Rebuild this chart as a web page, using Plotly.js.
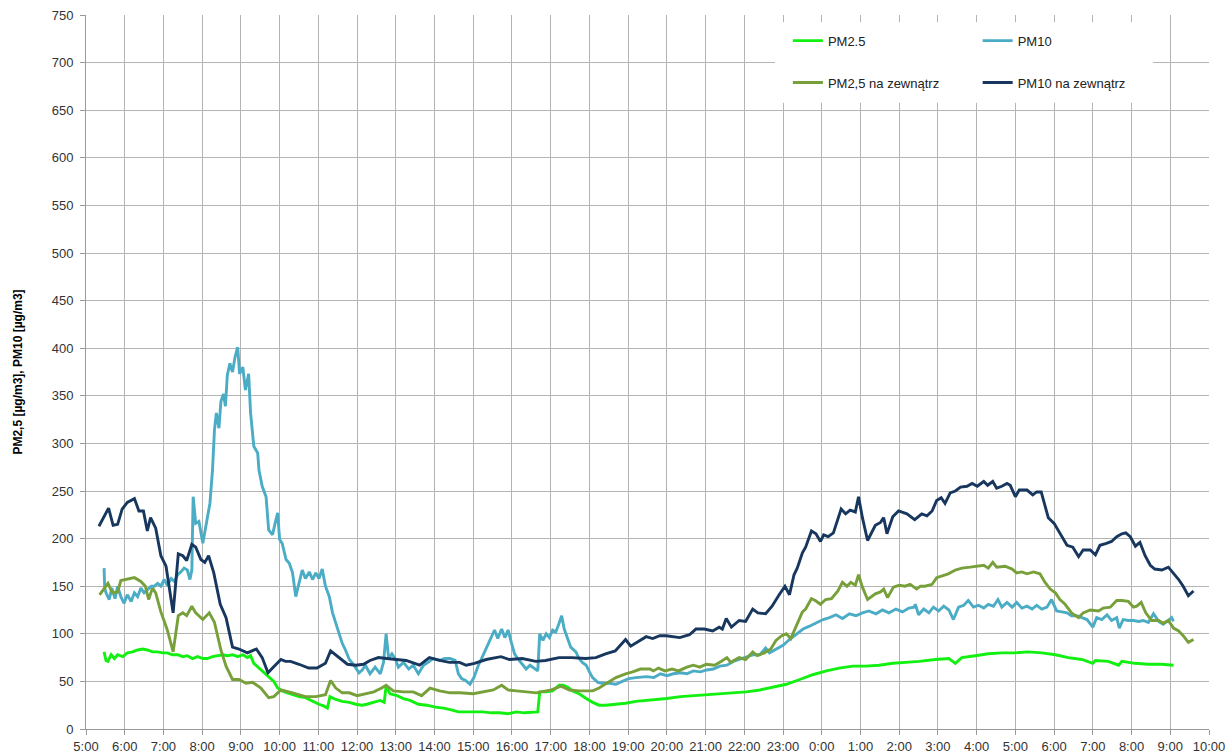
<!DOCTYPE html>
<html>
<head>
<meta charset="utf-8">
<script src="https://cdn.plot.ly/plotly-3.0.1.min.js"></script>
<style>html,body{margin:0;padding:0;background:#fff;}#chart{width:1230px;height:756px;}</style>
</head>
<body>
<div id="chart"></div>
<script>
// ---- Data ----
const pm25Times = ["05:28","05:31","05:34","05:39","05:44","05:49","05:57","06:04","06:12","06:20","06:28","06:35","06:43","06:51","06:59","07:06","07:14","07:22","07:30","07:37","07:45","07:53","08:01","08:08","08:16","08:24","08:32","08:39","08:47","08:55","09:03","09:10","09:15","09:20","09:28","09:36","09:44","09:51","09:57","10:04","10:12","10:20","10:30","10:40","10:51","11:01","11:09","11:14","11:18","11:27","11:37","11:48","11:58","12:08","12:15","12:26","12:36","12:42","12:45","12:51","13:02","13:12","13:22","13:35","13:48","14:01","14:14","14:26","14:37","14:49","15:02","15:15","15:28","15:41","15:54","16:07","16:19","16:32","16:40","16:43","16:53","17:03","17:13","17:19","17:26","17:34","17:44","17:55","18:05","18:15","18:25","18:41","18:56","19:12","19:30","19:40","20:00","20:21","20:41","21:02","21:22","21:43","22:03","22:24","22:45","23:05","23:26","23:46","00:07","00:27","00:48","01:08","01:29","01:50","02:10","02:31","02:56","03:17","03:27","03:37","03:58","04:18","04:39","05:00","05:20","05:41","06:02","06:22","06:43","07:00","07:04","07:24","07:40","07:45","08:05","08:26","08:47","09:05"];
const pm25Values = [81,72,71,78,74,78,76,80,81,83,84,83,81,81,80,80,78,78,76,77,74,76,74,74,76,77,78,77,78,76,78,75,77,69,64,60,55,50,43,40,38,36,34,33,29,26,24,22,34,31,29,28,26,25,26,28,30,28,45,37,35,32,30,26,25,23,22,20,18,18,18,18,17,17,16,18,17,18,18,39,39,40,46,46,44,40,37,32,28,25,25,26,27,29,30,31,32,34,35,36,37,38,39,41,44,47,52,57,61,64,66,66,67,69,70,71,73,74,69,75,77,79,80,80,81,80,78,75,73,69,72,71,67,71,69,68,68,67];

const pm10Times = ["05:28","05:29","05:31","05:36","05:40","05:45","05:49","05:54","05:59","06:04","06:10","06:15","06:20","06:25","06:30","06:35","06:41","06:46","06:51","06:56","07:01","07:06","07:12","07:17","07:22","07:27","07:32","07:37","07:41","07:44","07:46","07:50","07:55","08:01","08:06","08:12","08:16","08:19","08:22","08:26","08:29","08:33","08:36","08:39","08:43","08:47","08:51","08:55","08:58","09:03","09:07","09:12","09:15","09:20","09:26","09:28","09:33","09:39","09:43","09:49","09:53","09:57","10:00","10:04","10:10","10:15","10:20","10:25","10:30","10:35","10:40","10:46","10:51","10:56","11:01","11:06","11:11","11:17","11:22","11:27","11:32","11:37","11:42","11:48","11:53","11:58","12:03","12:08","12:13","12:20","12:28","12:36","12:41","12:45","12:49","12:54","12:59","13:04","13:12","13:20","13:27","13:35","13:43","13:50","13:58","14:08","14:16","14:24","14:32","14:37","14:42","14:48","14:55","15:01","15:08","15:15","15:23","15:28","15:33","15:38","15:44","15:49","15:54","15:59","16:04","16:09","16:16","16:22","16:28","16:35","16:40","16:43","16:48","16:53","16:58","17:03","17:08","17:13","17:17","17:21","17:26","17:31","17:39","17:44","17:49","17:55","18:00","18:05","18:13","18:20","18:31","18:41","18:51","19:01","19:12","19:22","19:29","19:40","19:50","20:00","20:10","20:21","20:31","20:41","20:52","21:02","21:12","21:22","21:33","21:43","21:53","22:03","22:14","22:24","22:33","22:39","22:50","23:00","23:10","23:21","23:31","23:41","23:51","00:02","00:12","00:22","00:32","00:43","00:53","01:03","01:13","01:24","01:34","01:44","01:55","02:05","02:15","02:23","02:25","02:30","02:38","02:46","02:53","03:01","03:09","03:17","03:24","03:32","03:40","03:47","03:55","04:03","04:11","04:18","04:26","04:33","04:39","04:47","04:55","05:02","05:10","05:18","05:26","05:33","05:41","05:49","05:56","06:04","06:12","06:20","06:27","06:35","06:43","06:51","07:00","07:06","07:14","07:22","07:29","07:37","07:41","07:47","07:55","08:03","08:11","08:18","08:26","08:34","08:42","08:49","08:57","09:02","09:05"];
const pm10Values = [169,148,143,136,148,137,150,139,132,141,134,143,139,148,143,146,150,150,153,150,157,151,158,155,162,165,169,167,157,167,244,216,218,195,213,237,272,314,332,316,344,352,339,372,384,375,391,401,373,380,356,373,332,297,290,272,255,244,209,204,216,227,199,195,178,174,164,139,153,167,158,165,157,164,158,168,150,139,122,111,101,90,83,73,69,64,59,62,67,58,65,58,70,100,74,79,74,65,70,63,67,58,67,70,74,72,74,74,72,58,53,51,47,54,67,77,89,95,104,95,105,96,104,91,79,74,68,63,67,63,61,100,93,100,96,104,102,111,119,105,95,86,81,74,70,67,60,54,49,48,48,47,50,53,54,55,55,54,58,56,58,59,58,61,60,62,63,66,67,71,73,75,78,78,85,80,84,88,94,100,105,108,111,115,117,120,116,121,119,122,124,121,125,122,126,123,127,128,131,120,126,122,128,124,129,125,115,128,130,135,128,130,127,131,129,136,128,133,128,133,127,129,126,130,126,128,136,124,123,122,119,119,117,115,107,117,115,120,114,117,106,115,114,114,113,114,112,121,113,110,114,117,113];

const pm25OutTimes = ["05:21","05:26","05:34","05:41","05:49","05:54","06:07","06:15","06:25","06:32","06:37","06:43","06:48","06:56","07:06","07:15","07:23","07:30","07:36","07:44","07:50","08:01","08:11","08:19","08:29","08:37","08:47","08:57","09:08","09:18","09:31","09:43","09:51","10:02","10:20","10:40","10:56","11:11","11:19","11:27","11:37","11:48","12:00","12:13","12:26","12:38","12:45","12:56","13:12","13:27","13:40","13:53","14:08","14:24","14:39","15:00","15:15","15:31","15:44","15:54","16:07","16:22","16:38","16:45","17:01","17:16","17:29","17:44","18:05","18:15","18:25","18:41","18:56","19:07","19:19","19:34","19:39","19:47","19:57","20:08","20:18","20:31","20:41","20:51","21:01","21:14","21:24","21:33","21:39","21:52","22:02","22:13","22:20","22:31","22:41","22:49","22:58","23:05","23:12","23:20","23:30","23:35","23:44","23:50","23:58","00:06","00:15","00:25","00:32","00:39","00:45","00:52","00:57","01:03","01:11","01:23","01:31","01:36","01:42","01:51","02:00","02:09","02:17","02:27","02:33","02:40","02:51","02:58","03:06","03:16","03:27","03:37","03:50","04:00","04:11","04:18","04:25","04:31","04:44","04:55","05:02","05:10","05:18","05:28","05:38","05:46","05:54","06:02","06:09","06:17","06:27","06:38","06:45","06:56","07:09","07:16","07:27","07:37","07:45","07:55","08:03","08:08","08:15","08:22","08:31","08:42","08:49","08:57","09:05","09:13","09:20","09:28","09:36"];
const pm25OutValues = [141,146,153,143,144,156,158,159,155,150,136,148,143,123,104,81,119,122,119,129,122,115,122,112,83,66,52,52,48,49,43,33,34,41,38,34,34,36,51,43,38,38,35,37,39,43,46,40,39,39,35,43,40,38,38,37,39,41,46,41,40,39,38,39,41,45,41,40,40,43,47,54,58,60,63,63,61,64,61,63,61,65,67,65,68,67,71,75,70,75,73,81,77,80,84,93,98,100,95,108,123,126,137,135,131,136,137,145,154,150,154,151,162,149,136,142,144,147,138,149,151,150,152,147,150,150,152,159,161,163,167,169,170,171,172,169,175,170,171,168,164,165,163,165,163,154,147,143,136,131,122,117,122,125,124,127,128,135,135,134,128,129,133,122,114,114,111,114,106,103,98,91,94];

const pm10OutTimes = ["05:20","05:35","05:42","05:49","05:56","06:04","06:15","06:22","06:29","06:35","06:40","06:48","06:56","07:04","07:15","07:23","07:30","07:36","07:44","07:50","07:58","08:04","08:10","08:18","08:28","08:37","08:47","08:57","09:10","09:18","09:24","09:33","09:42","09:49","10:02","10:09","10:17","10:30","10:45","10:58","11:11","11:19","11:32","11:45","11:58","12:10","12:20","12:33","12:46","13:00","13:16","13:37","13:52","14:08","14:23","14:39","14:49","15:02","15:20","15:43","15:56","16:16","16:37","16:52","17:13","17:33","17:54","18:10","18:25","18:40","18:56","19:04","19:16","19:28","19:38","19:49","19:59","20:09","20:20","20:35","20:45","20:58","21:11","21:21","21:26","21:32","21:40","21:52","22:02","22:13","22:21","22:33","22:43","22:54","23:03","23:10","23:17","23:22","23:30","23:35","23:44","23:51","23:58","00:03","00:10","00:18","00:30","00:37","00:44","00:52","00:57","01:03","01:11","01:23","01:31","01:36","01:41","01:50","01:59","02:12","02:24","02:35","02:43","02:51","02:58","03:05","03:11","03:19","03:27","03:35","03:45","03:53","04:01","04:11","04:17","04:25","04:31","04:39","04:47","04:52","05:00","05:06","05:18","05:27","05:33","05:40","05:51","06:00","06:09","06:20","06:29","06:38","06:45","06:56","07:04","07:11","07:21","07:29","07:37","07:45","07:51","07:58","08:06","08:13","08:21","08:29","08:36","08:47","08:57","09:05","09:13","09:20","09:28","09:36"];
const pm10OutValues = [213,232,214,215,231,238,242,229,229,208,222,211,182,171,122,184,182,177,194,191,178,175,182,164,131,117,86,84,80,82,84,75,59,64,73,71,71,68,64,64,69,82,75,68,67,68,72,75,74,73,72,67,75,72,70,70,67,69,73,76,73,74,71,72,75,75,74,75,79,82,94,87,92,97,95,98,98,97,96,99,105,105,103,107,105,116,107,114,113,126,122,121,129,141,150,141,162,169,185,191,208,205,197,204,202,206,231,226,230,228,244,222,198,214,217,222,205,223,229,226,220,226,224,229,240,243,237,248,250,254,255,258,255,260,256,260,253,255,258,256,244,251,251,246,249,249,222,216,205,193,191,181,188,188,183,193,195,197,202,205,206,202,192,196,182,172,168,167,170,164,157,150,140,145];

const seriesNames = ["PM2.5", "PM10", "PM2,5 na zewnątrz", "PM10 na zewnątrz"];
const seriesColors = ["#11f011", "#4bacc6", "#77a03a", "#17375e"];
const yTitle = "PM2,5 [µg/m3], PM10 [µg/m3]";

// Times run over midnight: second day starts when clock time decreases
function toDates(times) {
  let day = 1, prev = -1;
  return times.map(t => {
    const [h, m] = t.split(':').map(Number);
    const mins = h * 60 + m;
    if (mins < prev) day++;
    prev = mins;
    return '2020-01-0' + day + ' ' + t;
  });
}

const seriesData = [
  [pm25Times, pm25Values, 'legend'],
  [pm10Times, pm10Values, 'legend2'],
  [pm25OutTimes, pm25OutValues, 'legend'],
  [pm10OutTimes, pm10OutValues, 'legend2']
];

const traces = seriesData.map((s, i) => ({
  type: 'scatter',
  mode: 'lines',
  name: seriesNames[i],
  x: toDates(s[0]),
  y: s[1],
  legend: s[2],
  legendgroup: 'g' + i,
  line: {color: seriesColors[i], width: 2.9},
  hoverinfo: 'skip'
}));

const fontFam = 'Liberation Sans, Arial, sans-serif';
const legendCommon = {
  bgcolor: 'rgba(0,0,0,0)',
  borderwidth: 0,
  font: {family: fontFam, size: 13, color: '#222'},
  orientation: 'v',
  tracegroupgap: 22,
  xanchor: 'left',
  yanchor: 'top',
  y: 0.985
};

const layout = {
  width: 1230,
  height: 756,
  margin: {l: 86, r: 21, t: 15, b: 27},
  paper_bgcolor: '#fff',
  plot_bgcolor: '#fff',
  showlegend: true,
  font: {family: fontFam, size: 13, color: '#404040'},
  xaxis: {
    type: 'date',
    range: ['2020-01-01 05:00', '2020-01-02 10:00'],
    dtick: 3600000,
    tick0: '2020-01-01 05:00',
    tickformat: '%-H:%M',
    showgrid: true,
    gridcolor: '#b4b4b4',
    gridwidth: 1,
    showline: true,
    linecolor: '#999',
    linewidth: 1,
    ticks: 'outside',
    ticklen: 5,
    tickcolor: '#999',
    zeroline: false,
    tickfont: {family: fontFam, size: 13, color: '#333'},
    fixedrange: true
  },
  yaxis: {
    range: [0, 750],
    dtick: 50,
    showgrid: true,
    gridcolor: '#b4b4b4',
    gridwidth: 1,
    showline: true,
    linecolor: '#999',
    linewidth: 1,
    ticks: 'outside',
    ticklen: 5,
    tickcolor: '#999',
    zeroline: false,
    ticklabelstandoff: 4,
    tickfont: {family: fontFam, size: 13, color: '#333'},
    title: {text: yTitle, font: {family: fontFam, size: 12, color: '#000', weight: 'bold'}, standoff: 26},
    automargin: false,
    fixedrange: true
  },
  legend: Object.assign({}, legendCommon, {x: 0.625}),
  legend2: Object.assign({}, legendCommon, {x: 0.794}),
  shapes: [{
    type: 'rect', xref: 'paper', yref: 'paper',
    x0: 0.6135, x1: 0.950, y0: 0.877, y1: 0.990,
    fillcolor: '#fff', line: {width: 0}, layer: 'above'
  }]
};

Plotly.newPlot('chart', traces, layout, {displayModeBar: false, staticPlot: true});
</script>
</body>
</html>
